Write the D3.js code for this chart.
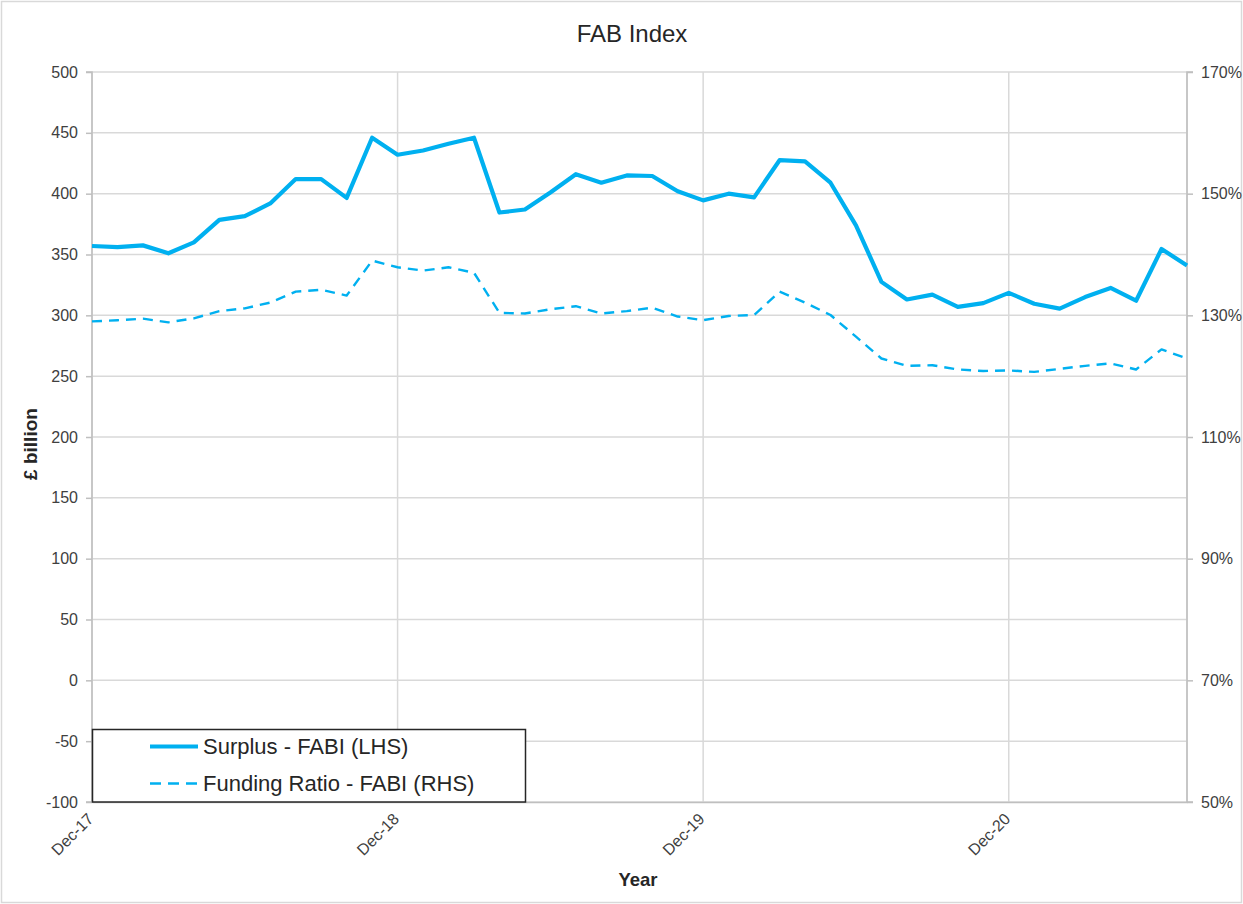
<!DOCTYPE html>
<html>
<head>
<meta charset="utf-8">
<script src="https://cdn.jsdelivr.net/npm/d3@7"></script>
<style>
  html, body { margin: 0; padding: 0; background: #fff; }
  svg { display: block; font-family: "Liberation Sans", Arial, sans-serif; }
</style>
</head>
<body>
<svg id="chart" width="1243" height="904"></svg>
<script>
const months = ["Dec-17","Jan-18","Feb-18","Mar-18","Apr-18","May-18","Jun-18","Jul-18","Aug-18","Sep-18","Oct-18","Nov-18",
  "Dec-18","Jan-19","Feb-19","Mar-19","Apr-19","May-19","Jun-19","Jul-19","Aug-19","Sep-19","Oct-19","Nov-19",
  "Dec-19","Jan-20","Feb-20","Mar-20","Apr-20","May-20","Jun-20","Jul-20","Aug-20","Sep-20","Oct-20","Nov-20",
  "Dec-20","Jan-21","Feb-21","Mar-21","Apr-21","May-21","Jun-21","Jul-21"];
const surplus = [357,356,357.5,351,360,378.5,381.5,392,412,412,396.5,446,
  432,435.5,441,446,384.5,387,401,416,409,415,414.5,402,
  394.5,400,397,427.5,426.5,409,374,327.5,313,317,307,310,
  318.5,309.5,305.5,315,322.5,312,354.5,341];
const fundingRatio = [129,129.2,129.45,128.85,129.5,130.7,131.15,132.1,133.9,134.2,133.25,139,
  137.9,137.35,137.9,137,130.4,130.3,131,131.5,130.3,130.7,131.25,129.8,
  129.2,129.9,130.05,133.9,132.1,130.05,126.5,122.9,121.7,121.8,121.1,120.85,
  120.95,120.7,121.2,121.7,122.1,121.1,124.4,122.9];
const xTickLabels = ["Dec-17","Dec-18","Dec-19","Dec-20"];
const leftTicks = [-100,-50,0,50,100,150,200,250,300,350,400,450,500];
const rightTicks = [50,70,90,110,130,150,170];
const seriesNames = ["Surplus - FABI (LHS)","Funding Ratio - FABI (RHS)"];

const svg = d3.select("#chart");
const W = 1243, H = 904;
const m = {left: 92, right: 1187, top: 72, bottom: 802};
const color = "#00b0f0";
const gridColor = "#d9d9d9";
const font = "'Liberation Sans', Arial, sans-serif";

svg.append("rect").attr("x",1.5).attr("y",1.5).attr("width",W-3).attr("height",H-3)
  .attr("fill","#fff").attr("stroke","#d9d9d9").attr("stroke-width",1.5);

const x = d3.scaleLinear().domain([0, months.length-1]).range([m.left, m.right]);
const yL = d3.scaleLinear().domain([-100, 500]).range([m.bottom, m.top]);
const yR = d3.scaleLinear().domain([50, 170]).range([m.bottom, m.top]);

// horizontal grid
svg.append("g").selectAll("line").data(leftTicks).join("line")
  .attr("x1", m.left).attr("x2", m.right)
  .attr("y1", d=>yL(d)).attr("y2", d=>yL(d))
  .attr("stroke", gridColor).attr("stroke-width", 1.5);

// vertical grid
const xTickIdx = xTickLabels.map(l => months.indexOf(l));
svg.append("g").selectAll("line").data(xTickIdx.concat([months.length-1])).join("line")
  .attr("x1", d=>x(d)).attr("x2", d=>x(d))
  .attr("y1", m.top).attr("y2", m.bottom)
  .attr("stroke", gridColor).attr("stroke-width", 1.5);

// left axis
const leftAxis = d3.axisLeft(yL).tickValues(leftTicks).tickSize(6).tickPadding(8).tickFormat(d => String(d));
const gL = svg.append("g").attr("transform", `translate(${m.left},0)`).call(leftAxis);
gL.select(".domain").attr("stroke", "#bfbfbf").attr("stroke-width", 1.5).attr("d", `M-6,${m.top}H0V${m.bottom}H-6`);
gL.selectAll(".tick line").attr("stroke", "#bfbfbf").attr("stroke-width", 1.5);
gL.selectAll(".tick text").attr("font-size", 16).attr("fill", "#404040").style("font-family", font);

// right axis
const rightAxis = d3.axisRight(yR).tickValues(rightTicks).tickSize(6).tickPadding(8).tickFormat(d => d + "%");
const gR = svg.append("g").attr("transform", `translate(${m.right},0)`).call(rightAxis);
gR.select(".domain").attr("stroke", "#bfbfbf").attr("stroke-width", 1.5).attr("d", `M6,${m.top}H0V${m.bottom}H6`);
gR.selectAll(".tick line").attr("stroke", "#bfbfbf").attr("stroke-width", 1.5);
gR.selectAll(".tick text").attr("font-size", 16).attr("fill", "#404040").style("font-family", font);

// bottom axis
const bottomAxis = d3.axisBottom(x).tickValues(xTickIdx).tickSize(0).tickFormat(i => months[i]);
const gB = svg.append("g").attr("transform", `translate(0,${m.bottom})`).call(bottomAxis);
gB.select(".domain").attr("stroke", "#bfbfbf").attr("stroke-width", 1.5);
gB.selectAll(".tick text").attr("font-size", 16).attr("fill", "#404040").style("font-family", font)
  .attr("text-anchor", "end").attr("dy", null).attr("y", 0)
  .attr("transform", "translate(-1,15) rotate(-45)")
  .attr("dominant-baseline", "middle");

// lines
const lineL = d3.line().x((d,i)=>x(i)).y(d=>yL(d));
const lineR = d3.line().x((d,i)=>x(i)).y(d=>yR(d));
svg.append("path").datum(fundingRatio).attr("d", lineR)
  .attr("fill","none").attr("stroke", color).attr("stroke-width", 2.4)
  .attr("stroke-dasharray", "10,7").attr("stroke-linejoin","round");
svg.append("path").datum(surplus).attr("d", lineL)
  .attr("fill","none").attr("stroke", color).attr("stroke-width", 4.2)
  .attr("stroke-linejoin","round");

// title
svg.append("text").attr("x", 632).attr("y", 42).attr("text-anchor","middle")
  .attr("font-size", 24).attr("fill", "#262626").style("font-family", font).text("FAB Index");

// axis titles
svg.append("text").attr("transform", "translate(37,444) rotate(-90)").attr("text-anchor","middle")
  .attr("font-size", 19).attr("font-weight","bold").attr("fill","#262626").style("font-family", font).text("£ billion");
svg.append("text").attr("x", 638).attr("y", 886).attr("text-anchor","middle")
  .attr("font-size", 18.5).attr("font-weight","bold").attr("fill","#262626").style("font-family", font).text("Year");

// legend
const lg = svg.append("g");
lg.append("rect").attr("x", 92.5).attr("y", 729.5).attr("width", 433).attr("height", 72.5)
  .attr("fill","#fff").attr("stroke","#262626").attr("stroke-width",1.5);
const legendRows = [{y: 746.5, w: 4.2, dash: null}, {y: 783.5, w: 2.4, dash: "11,7"}];
legendRows.forEach((r, i) => {
  lg.append("line").attr("x1", 150).attr("x2", 198).attr("y1", r.y).attr("y2", r.y)
    .attr("stroke", color).attr("stroke-width", r.w).attr("stroke-dasharray", r.dash);
  lg.append("text").attr("x", 203).attr("y", r.y).attr("dominant-baseline","central")
    .attr("font-size", 22).attr("fill","#262626").style("font-family", font).text(seriesNames[i]);
});
</script>
</body>
</html>
